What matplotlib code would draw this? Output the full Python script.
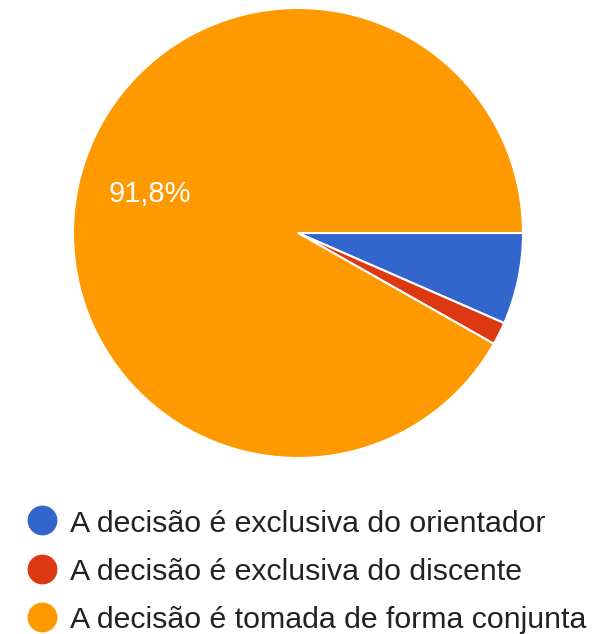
import matplotlib.pyplot as plt

plt.rcParams['font.family'] = ['Liberation Sans', 'DejaVu Sans']

# ---- Responses ----
labels = [
    "A decisão é exclusiva do orientador",
    "A decisão é exclusiva do discente",
    "A decisão é tomada de forma conjunta",
]
counts = [4, 1, 56]
colors = ["#3366cc", "#dc3912", "#ff9900"]

fig = plt.figure(figsize=(6.0, 6.34), dpi=100)

# ---- Pie ----
ax = fig.add_axes([0.1217, 0.2776, 0.75, 0.7098])
ax.pie(
    counts,
    colors=colors,
    startangle=0,
    counterclock=False,
    radius=1.0,
    autopct=lambda p: f"{p:.1f}%".replace(".", ",") if p > 10 else "",
    pctdistance=0.68,
    wedgeprops=dict(edgecolor="white", linewidth=1.5),
    textprops=dict(color="white", fontsize=21),
)
ax.set_xlim(-1.0, 1.0)
ax.set_ylim(-1.0, 1.0)
ax.set_aspect("equal")
ax.axis("off")

# ---- Legend (pixel coordinates, y down) ----
lg = fig.add_axes([0, 0, 1, 1])
lg.set_xlim(0, 600)
lg.set_ylim(634, 0)
lg.axis("off")
row_y = [520, 568.5, 617]
for y, c, lab in zip(row_y, colors, labels):
    lg.plot(42, y, marker="o", markersize=21.5, color=c, markeredgewidth=0)
    lg.text(70, y + 11.5, lab, fontsize=21.8, color="#222222",
            ha="left", va="baseline")

fig.savefig("out.png", dpi=100)
